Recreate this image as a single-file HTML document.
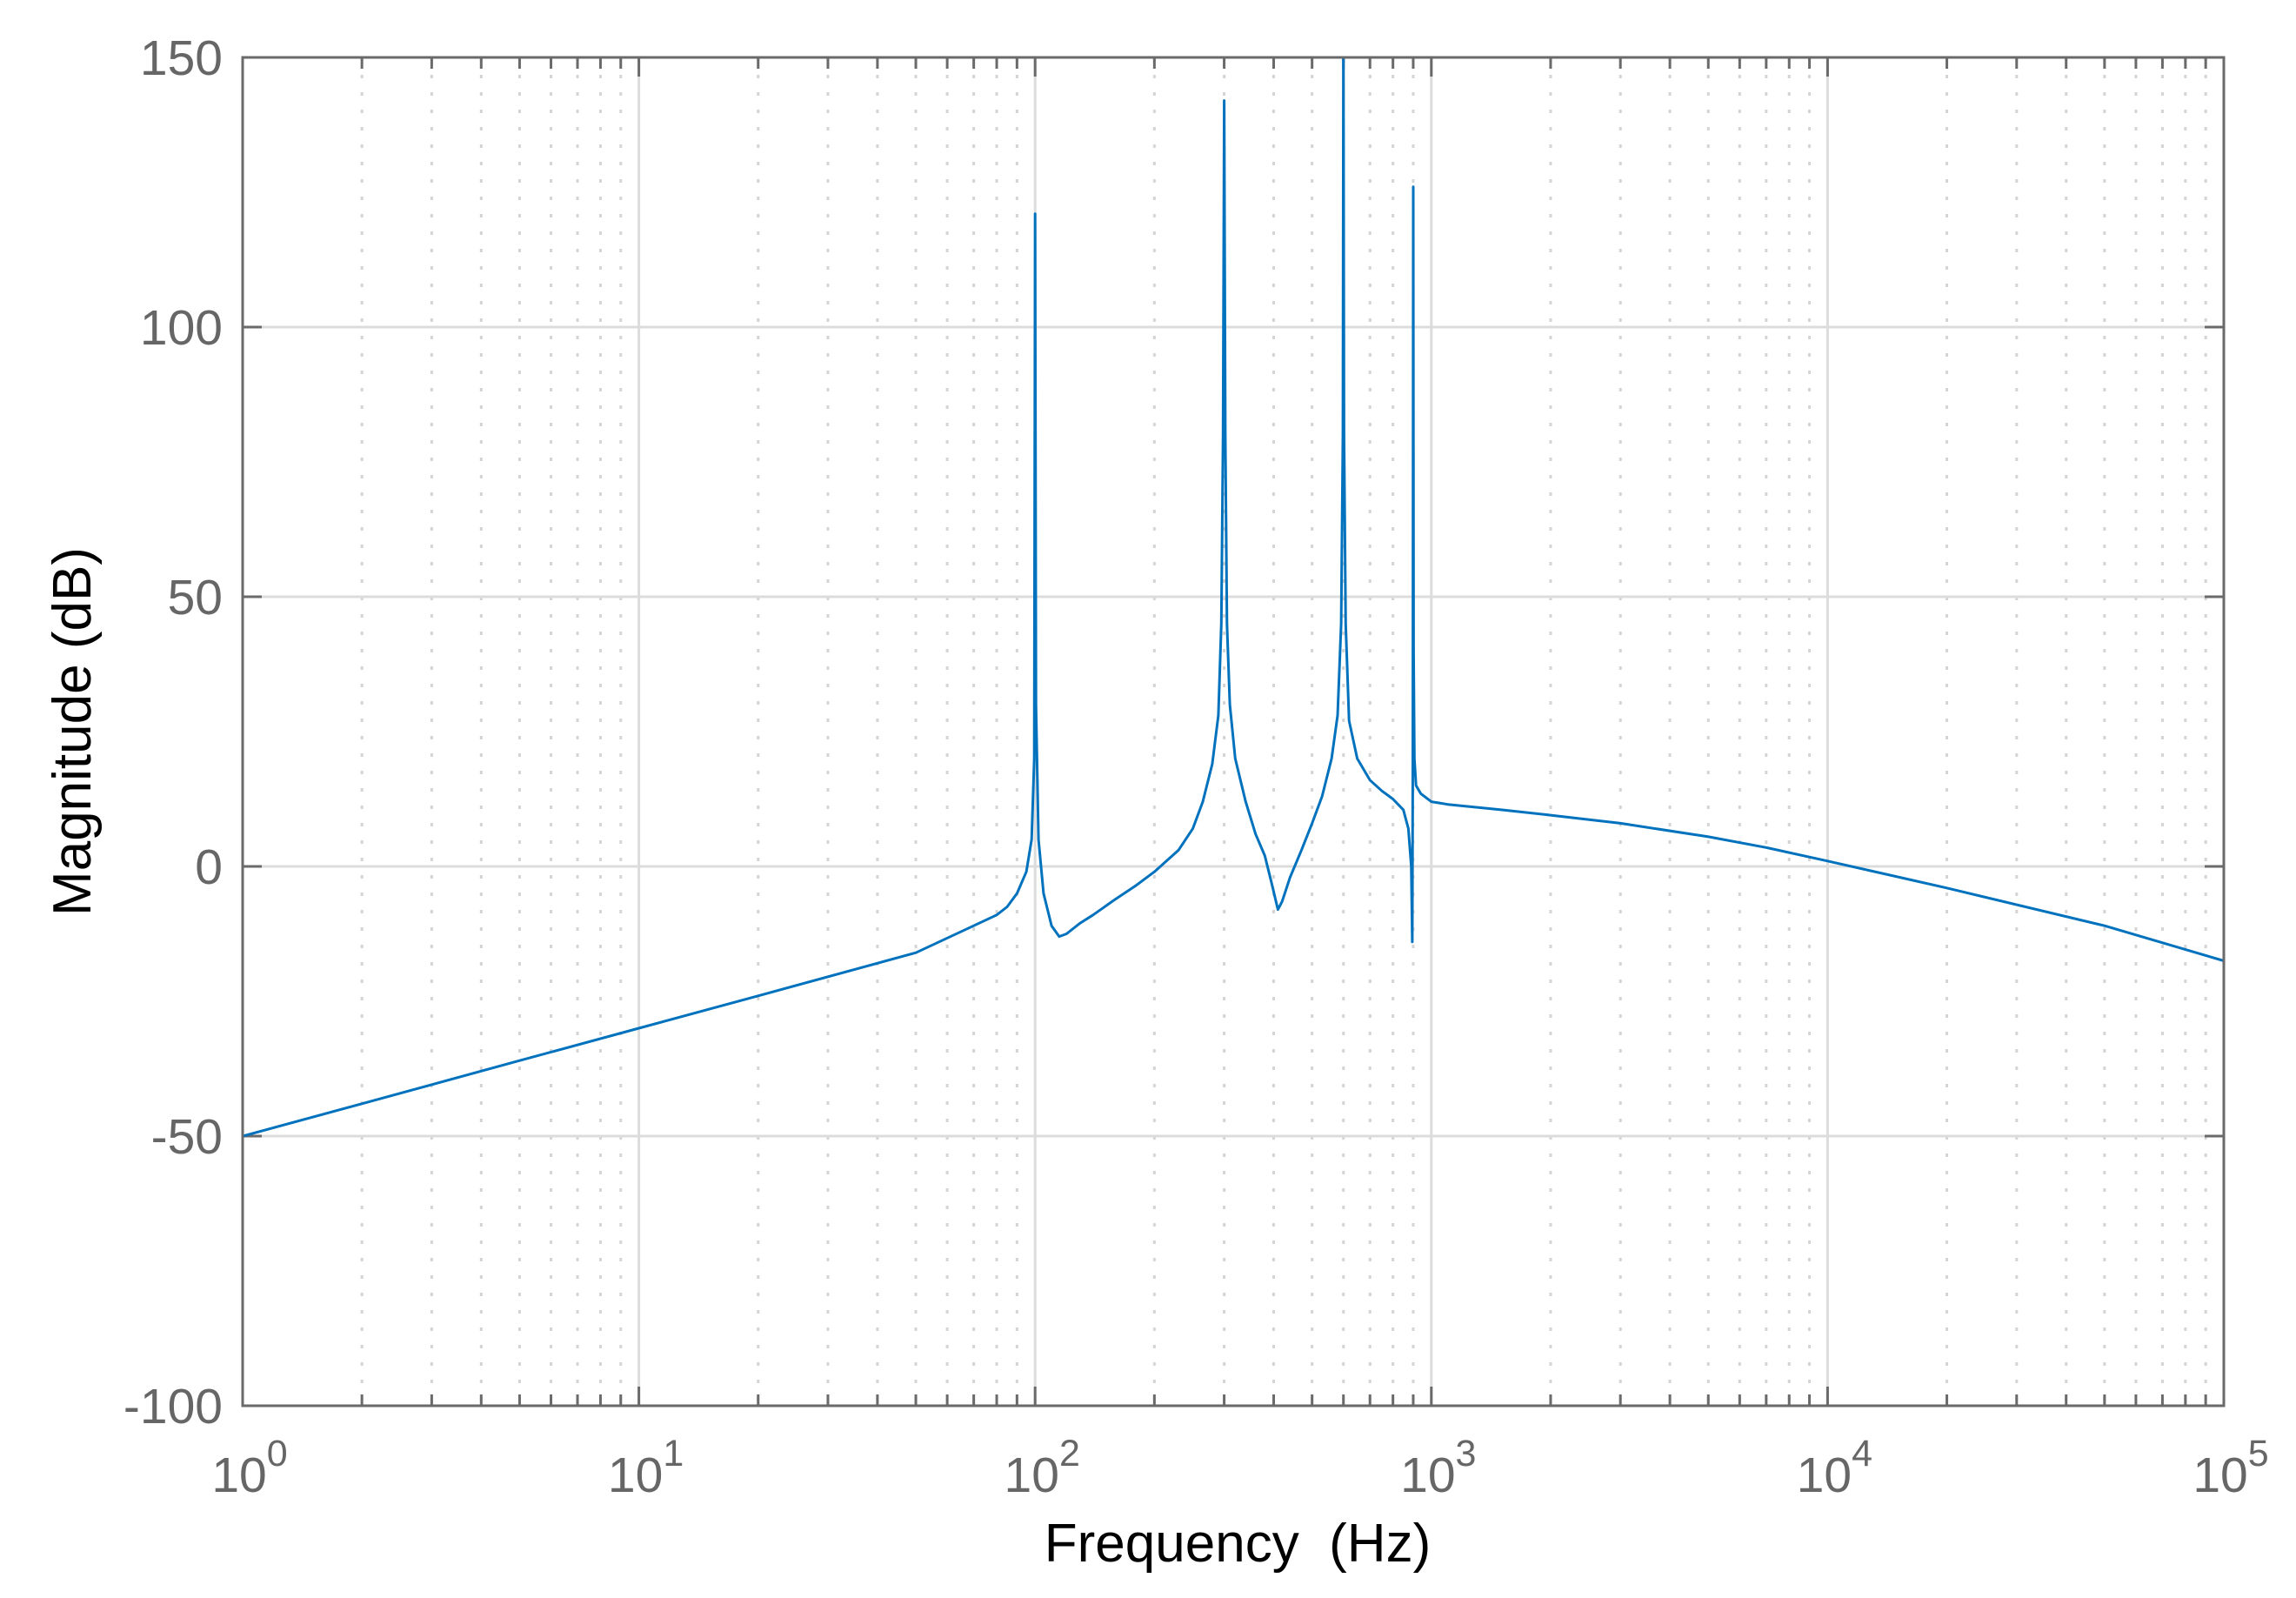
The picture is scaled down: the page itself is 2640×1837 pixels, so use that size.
<!DOCTYPE html>
<html><head><meta charset="utf-8"><style>
html,body{margin:0;padding:0;background:#fff;}
svg{display:block;font-family:"Liberation Sans",Arial,sans-serif;}
</style></head><body>
<svg id="chart" width="2640" height="1837" viewBox="0 0 2640 1837" xmlns="http://www.w3.org/2000/svg">
<rect width="2640" height="1837" fill="#fff"/>
<g id="grid"></g>
<g id="ticks"></g>
<g id="series"></g>
<rect x="279" y="66" width="2278" height="1550" fill="none" stroke="#6a6a6a" stroke-width="3"/>
<g id="labels"></g>
<text x="1423" y="1795" font-size="62" text-anchor="middle" fill="#000" xml:space="preserve">Frequency  (Hz)</text>
<text x="0" y="0" font-size="62" text-anchor="middle" fill="#000" transform="translate(104,841) rotate(-90)">Magnitude (dB)</text>
</svg>
<script>
const freqs = [1,2,5,10,20,50,70,80,85,90,95,98,99.5,100,100.5,102,105,110,115,120,130,140,160,180,200,230,250,265,280,290,295,298,300,302,305,310,320,340,360,380,395,410,420,440,470,500,530,560,580,592,598,600,602,608,620,650,700,750,800,850,875,890,895,898,900,902,906,915,940,1000,1100,1500,2000,3000,5000,7000,10000,20000,50000,100000];
const mags  = [-50,-44,-36,-30,-24,-16,-11,-9,-7.5,-5,-1,5,20,121,30,5,-5,-11,-13,-12.5,-10.5,-9,-6,-3.5,-1,3,7,12,19,28,45,80,142,80,45,30,20,12,6,2,-3,-8,-6.5,-2,3,8,13,20,28,45,80,155,80,45,27,20,16,14,12.5,10.5,7,0,-14,20,126,40,20,15,13.5,12,11.5,10.5,9.5,8,5.5,3.5,1,-4,-11,-17.5];
const yTicks = [-100,-50,0,50,100,150];
const xDecades = [0,1,2,3,4,5];
const X0=279,X1=2557,Y0=66,Y1=1616;
const xs=f=>X0+(Math.log10(f)-0)/5*(X1-X0);
const ys=v=>Y1-(v+100)/250*(Y1-Y0);
const NS="http://www.w3.org/2000/svg";
function mk(tag,parent){const e=document.createElementNS(NS,tag);parent.appendChild(e);return e;}
const grid=document.getElementById('grid'),ticks=document.getElementById('ticks'),labels=document.getElementById('labels'),series=document.getElementById('series');
xDecades.forEach(d=>{
  for(let m=1;m<=9;m++){
    if(d===5&&m>1)break;
    const x=xs(m*Math.pow(10,d));
    const l=mk('line',grid);
    
    
    l.setAttribute('x1',x);l.setAttribute('x2',x);l.setAttribute('y1',Y0);l.setAttribute('y2',Y1);
    l.setAttribute('stroke', m===1?'#dcdcdc':'#d4d4d4');
    l.setAttribute('stroke-width', 3);
    if(m>1)l.setAttribute('stroke-dasharray','4,16');
    const len=m===1?22:13;
    [[Y1,Y1-len],[Y0,Y0+len]].forEach(p=>{const t=mk('line',ticks);
      
      
      t.setAttribute('x1',x);t.setAttribute('x2',x);t.setAttribute('y1',p[0]);t.setAttribute('y2',p[1]);t.setAttribute('stroke','#6a6a6a');t.setAttribute('stroke-width',3);});
  }
  const tx=mk('text',labels);
  
  
  tx.setAttribute('x',xs(Math.pow(10,d))+8);tx.setAttribute('y',1715);tx.setAttribute('font-size',57);tx.setAttribute('fill','#666');tx.setAttribute('text-anchor','middle');
  tx.innerHTML='10<tspan font-size="43" dy="-30">'+d+'</tspan>';
});
yTicks.forEach(v=>{
  const y=ys(v);
  if(v>-100&&v<150){const l=mk('line',grid);
    
    
    l.setAttribute('x1',X0);l.setAttribute('x2',X1);l.setAttribute('y1',y);l.setAttribute('y2',y);l.setAttribute('stroke','#dcdcdc');l.setAttribute('stroke-width',3);}
  [[X0,X0+22],[X1,X1-22]].forEach(p=>{const t=mk('line',ticks);
    
    
    t.setAttribute('x1',p[0]);t.setAttribute('x2',p[1]);t.setAttribute('y1',y);t.setAttribute('y2',y);t.setAttribute('stroke','#6a6a6a');t.setAttribute('stroke-width',3);});
  const tx=mk('text',labels);
  
  
  tx.setAttribute('x',256);tx.setAttribute('y',y+20);tx.setAttribute('font-size',57);tx.setAttribute('fill','#666');tx.setAttribute('text-anchor','end');
  tx.textContent=v;
});
const cp=mk('clipPath',series);cp.setAttribute('id','clip');
const cr=mk('rect',cp);cr.setAttribute('x',X0);cr.setAttribute('y',Y0);cr.setAttribute('width',X1-X0);cr.setAttribute('height',Y1-Y0);
const path=mk('path',series);


path.setAttribute('d',freqs.map((f,i)=>(i?'L':'M')+xs(f).toFixed(1)+','+ys(mags[i]).toFixed(1)).join(''));
path.setAttribute('fill','none');path.setAttribute('stroke','#0072bd');path.setAttribute('stroke-width',3);path.setAttribute('stroke-linejoin','round');
path.setAttribute('clip-path','url(#clip)');
</script>
</body></html>
